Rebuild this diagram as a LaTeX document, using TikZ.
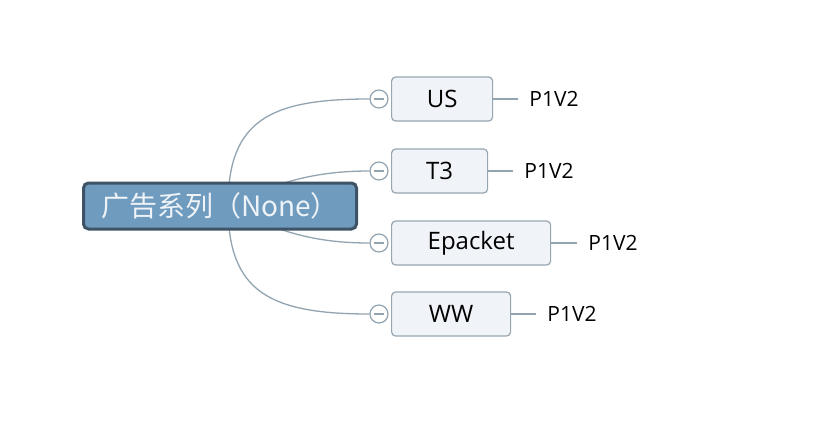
\documentclass[tikz,border=0pt]{standalone}
\usepackage{fontspec}
\setmainfont{Open Sans}
\newfontfamily\cjk{Noto Sans CJK SC}
\usetikzlibrary{positioning}

\definecolor{rootblue}{HTML}{6F9BBF}
\definecolor{rootedge}{HTML}{3E5466}
\definecolor{boxfill}{HTML}{F0F4F8}
\definecolor{boxedge}{HTML}{98A6B2}
\definecolor{branchgray}{HTML}{93A4B1}

\tikzset{
    rootbox/.style={draw=rootedge, line width=3pt, fill=rootblue, rounded corners=5pt,
        minimum width=273pt, minimum height=46pt, text=white!88!rootblue,
        font=\cjk\fontsize{28}{32}\selectfont},
    topicbox/.style={draw=boxedge, line width=1.2pt, fill=boxfill, rounded corners=4pt,
        minimum height=44pt, font=\fontsize{24}{28}\selectfont, anchor=west},
    foldmark/.style={circle, draw=branchgray, line width=1.2pt, fill=white, minimum size=18pt, inner sep=0pt},
    tagtext/.style={inner sep=0pt, font=\fontsize{21}{25}\selectfont, anchor=west},
    branch/.style={draw=branchgray, line width=1.3pt}
}

\begin{document}
\begin{tikzpicture}[x=1pt, y=-1pt]
        \useasboundingbox[fill=white] (0,0) rectangle (832,436);

        \coordinate (hub) at (228,206);

        \node[topicbox, minimum width=101pt] (us) at (391,99) {US};
        \node[topicbox, minimum width=96pt] (t3) at (391,171) {T3};
        \node[topicbox, minimum width=159pt] (ep) at (391,243) {Epacket};
        \node[topicbox, minimum width=119pt] (ww) at (391,314) {WW};

        \node[foldmark] (usf) at (379,99) {};
        \node[foldmark] (t3f) at (379,171) {};
        \node[foldmark] (epf) at (379,243) {};
        \node[foldmark] (wwf) at (379,314) {};

        % Ágak
        \draw[branch] (hub) .. controls (228,120) and (270,99) .. (usf.west);
        \draw[branch] (hub) .. controls (280,180) and (320,171) .. (t3f.west);
        \draw[branch] (hub) .. controls (280,234) and (320,243) .. (epf.west);
        \draw[branch] (hub) .. controls (228,292) and (270,314) .. (wwf.west);

        \node[rootbox] (root) at (220,206) {广告系列（None）};

        \draw[branchgray, line width=1.3pt] ([xshift=-5pt]usf.center) -- ([xshift=5pt]usf.center);
        \draw[branchgray, line width=1.3pt] ([xshift=-5pt]t3f.center) -- ([xshift=5pt]t3f.center);
        \draw[branchgray, line width=1.3pt] ([xshift=-5pt]epf.center) -- ([xshift=5pt]epf.center);
        \draw[branchgray, line width=1.3pt] ([xshift=-5pt]wwf.center) -- ([xshift=5pt]wwf.center);

        \node[tagtext, right=36pt of us] (usl) {P1V2};
        \node[tagtext, right=36pt of t3] (t3l) {P1V2};
        \node[tagtext, right=37pt of ep] (epl) {P1V2};
        \node[tagtext, right=36pt of ww] (wwl) {P1V2};

        \draw[branch, shorten >=11pt] (us) -- (usl);
        \draw[branch, shorten >=11pt] (t3) -- (t3l);
        \draw[branch, shorten >=11pt] (ep) -- (epl);
        \draw[branch, shorten >=11pt] (ww) -- (wwl);

    \end{tikzpicture}
\end{document}
